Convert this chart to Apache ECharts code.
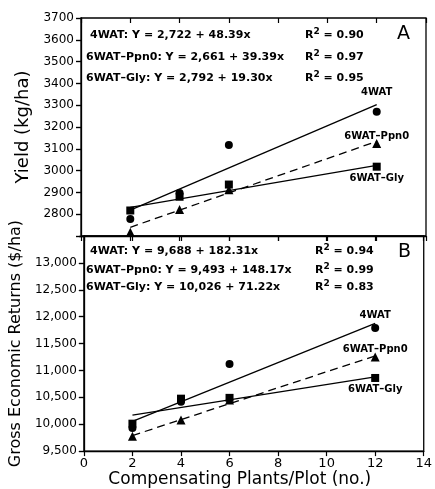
<!DOCTYPE html>
<html>
<head>
<meta charset="utf-8">
<script src="https://cdn.jsdelivr.net/npm/echarts@6/dist/echarts.min.js"></script>
<style>
  html, body { margin: 0; padding: 0; background: #fff; }
  #chart { width: 435px; height: 489px; }
</style>
</head>
<body>
<div id="chart"></div>
<script>
// 数据
const plantsX = [2, 4, 6, 12];

const yield4WAT = [2778, 2897, 3117, 3270];
const yieldPpn0 = [2717, 2822, 2912, 3124];
const yieldGly = [2817, 2880, 2936, 3018];

const ret4WAT = [9930, 10420, 11120, 11790];
const retPpn0 = [9775, 10080, 10450, 11250];
const retGly = [10010, 10475, 10490, 10860];

// 回归线端点 (x = 2, 12)
const fitX = [2, 12];
const fitYield4WAT = [2819, 3303];
const fitYieldPpn0 = [2740, 3134];
const fitYieldGly = [2831, 3024];
const fitRet4WAT = [10053, 11876];
const fitRetPpn0 = [9789, 11271];
const fitRetGly = [10168, 10881];

const eqYield = ['4WAT: Y = 2,722 + 48.39x', '6WAT\u2013Ppn0: Y = 2,661 + 39.39x', '6WAT\u2013Gly: Y = 2,792 + 19.30x'];
const r2Yield = ['0.90', '0.97', '0.95'];
const eqRet = ['4WAT: Y = 9,688 + 182.31x', '6WAT\u2013Ppn0: Y = 9,493 + 148.17x', '6WAT\u2013Gly: Y = 10,026 + 71.22x'];
const r2Ret = ['0.94', '0.99', '0.83'];

const seriesNames = ['4WAT', '6WAT\u2013Ppn0', '6WAT\u2013Gly'];

var myChart = echarts.init(document.getElementById('chart'));

const FONT = 'DejaVu Sans';

function pairs(xs, ys) {
  return xs.map(function (x, i) { return [x, ys[i]]; });
}

// 散点, 最后一点带标签
function scatter(name, ys, symbol, size, gi, lab) {
  return {
    type: 'scatter',
    xAxisIndex: gi, yAxisIndex: gi,
    symbol: symbol, symbolSize: size,
    itemStyle: { color: '#000', opacity: 1 },
    z: 5,
    data: plantsX.map(function (x, i) {
      var item = { value: [x, ys[i]] };
      if (i === plantsX.length - 1) {
        item.label = {
          show: true, formatter: name, position: lab.pos, distance: lab.dist,
          fontFamily: FONT, fontWeight: 'bold', fontSize: 10, color: '#000'
        };
      }
      return item;
    })
  };
}

function fitLine(ys, dashed, gi) {
  return {
    type: 'line',
    xAxisIndex: gi, yAxisIndex: gi,
    symbol: 'none',
    lineStyle: { color: '#000', width: 1.3, type: dashed ? [8, 5] : 'solid' },
    data: pairs(fitX, ys),
    z: 3
  };
}

function xAxisOuter(gi, showLabel) {
  return {
    type: 'value', gridIndex: gi, min: 0, max: 14, interval: 2,
    axisLine: { show: true, lineStyle: { color: '#000', width: 1.3 } },
    axisTick: { show: true, length: 5, lineStyle: { color: '#000', width: 1.2 } },
    axisLabel: { show: showLabel, margin: 6, fontFamily: FONT, fontSize: 13, color: '#000' },
    splitLine: { show: false },
    name: showLabel ? 'Compensating Plants/Plot (no.)' : '',
    nameLocation: 'middle', nameGap: 16,
    nameTextStyle: { fontFamily: FONT, fontSize: 17, color: '#000', padding: [0, 28, 0, 0] }
  };
}

function xAxisInner(gi) {
  return {
    type: 'value', gridIndex: gi, min: 0, max: 14, interval: 2,
    axisLine: { show: false },
    axisTick: { show: true, inside: true, length: 5, lineStyle: { color: '#000', width: 1.2 } },
    axisLabel: { show: false }, splitLine: { show: false }
  };
}

function yAxisOuter(gi, min, max, step, fmt, name, nameSize, nameGap) {
  return {
    type: 'value', gridIndex: gi, min: min, max: max, interval: step,
    axisLine: { show: true, lineStyle: { color: '#000', width: 1.3 } },
    axisTick: { show: true, length: 5, lineStyle: { color: '#000', width: 1.2 } },
    axisLabel: { margin: 7, fontFamily: FONT, fontSize: 12, color: '#000', formatter: fmt },
    splitLine: { show: false },
    name: name, nameLocation: 'middle', nameGap: nameGap,
    nameTextStyle: { fontFamily: FONT, fontSize: nameSize, color: '#000' }
  };
}

function yAxisInner(gi, min, max, step) {
  return {
    type: 'value', gridIndex: gi, min: min, max: max, interval: step,
    axisLine: { show: false },
    axisTick: { show: true, inside: true, length: 5, lineStyle: { color: '#000', width: 1.2 } },
    axisLabel: { show: false }, splitLine: { show: false }
  };
}

// 方程文字
var eqRich = {
  s: { fontFamily: FONT, fontWeight: 'bold', fontSize: 9, padding: [0, 0, 7, 0], fill: '#000' }
};

function eqTexts(eqs, r2s, xs, ys, r2x) {
  var out = [];
  eqs.forEach(function (t, i) {
    out.push({
      type: 'text', left: xs[i], top: ys[i] - 7,
      style: { text: t, font: 'bold 11px "' + FONT + '"', fill: '#000' }
    });
    out.push({
      type: 'text', left: r2x, top: ys[i] - 10,
      style: { text: 'R{s|2} = ' + r2s[i], font: 'bold 11px "' + FONT + '"', fill: '#000', rich: eqRich }
    });
  });
  return out;
}

var option = {
  backgroundColor: '#fff',
  animation: false,
  grid: [
    { left: 81, top: 18, width: 345, height: 218, show: true, borderColor: '#000', borderWidth: 1.3, backgroundColor: 'transparent' },
    { left: 81, top: 236, width: 345, height: 217, show: true, borderColor: '#000', borderWidth: 1.3, backgroundColor: 'transparent' }
  ],
  xAxis: [xAxisOuter(0, false), xAxisOuter(1, true), xAxisInner(0), xAxisInner(1)],
  yAxis: [
    yAxisOuter(0, 2700, 3700, 100, function (v) { return v === 2700 ? '' : String(v); }, 'Yield (kg/ha)', 18, 47),
    yAxisOuter(1, 9500, 13500, 500, function (v) { return v === 13500 ? '' : v.toLocaleString('en-US'); }, 'Gross Economic Returns ($/ha)', 16, 50),
    yAxisInner(0, 2700, 3700, 100),
    yAxisInner(1, 9500, 13500, 500)
  ],
  graphic: [].concat(
    eqTexts(eqYield, r2Yield, [90, 86, 86], [37, 59, 80], 305),
    eqTexts(eqRet, r2Ret, [90, 86, 86], [253, 272, 289], 315),
    [
      { type: 'text', left: 397, top: 25, style: { text: 'A', font: '19px "' + FONT + '"', fill: '#000' } },
      { type: 'text', left: 398, top: 243, style: { text: 'B', font: '19px "' + FONT + '"', fill: '#000' } }
    ]
  ),
  series: [
    fitLine(fitYield4WAT, false, 0),
    fitLine(fitYieldPpn0, true, 0),
    fitLine(fitYieldGly, false, 0),
    scatter(seriesNames[0], yield4WAT, 'circle', 8, 0, { pos: 'top', dist: 10 }),
    scatter(seriesNames[1], yieldPpn0, 'triangle', 9, 0, { pos: 'top', dist: -2 }),
    scatter(seriesNames[2], yieldGly, 'rect', 8, 0, { pos: 'bottom', dist: 3 }),

    fitLine(fitRet4WAT, false, 1),
    fitLine(fitRetPpn0, true, 1),
    fitLine(fitRetGly, false, 1),
    scatter(seriesNames[0], ret4WAT, 'circle', 8, 1, { pos: 'top', dist: 4 }),
    scatter(seriesNames[1], retPpn0, 'triangle', 9, 1, { pos: 'top', dist: -2 }),
    scatter(seriesNames[2], retGly, 'rect', 8, 1, { pos: 'bottom', dist: 2 })
  ]
};

myChart.setOption(option);
</script>
</body>
</html>
